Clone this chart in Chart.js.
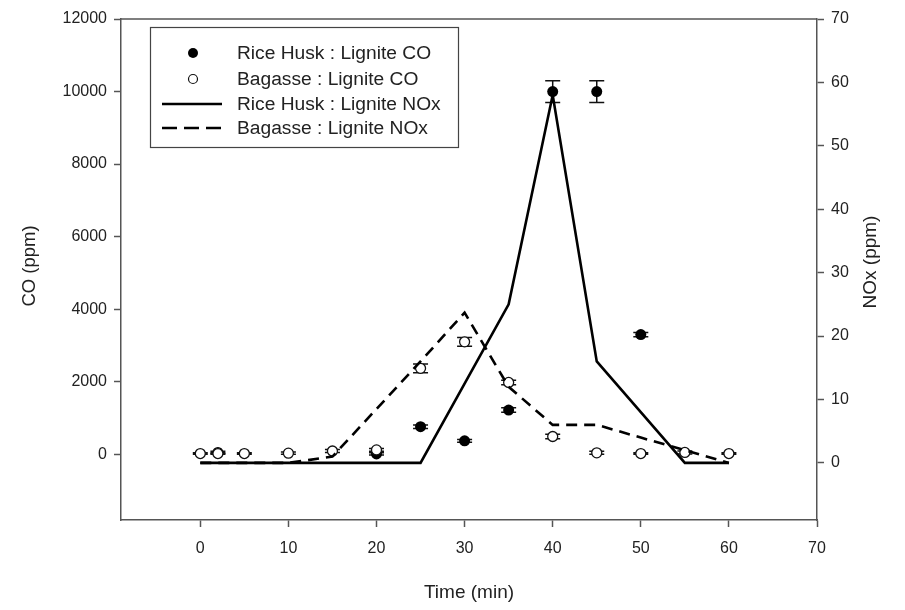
<!DOCTYPE html>
<html>
<head>
<meta charset="utf-8">
<script src="https://cdn.jsdelivr.net/npm/chart.js@4/dist/chart.umd.min.js"></script>
<style>
  html, body { margin: 0; padding: 0; background: #fff; }
  #wrap { width: 905px; height: 610px; position: relative; }
</style>
</head>
<body>
<div id="wrap"><canvas id="c" width="905" height="610"></canvas></div>
<script>
// CO readings (ppm) with error bars
const riceTimeCO = [2, 20, 25, 30, 35, 40, 45, 50];
const riceCO     = [50, 10, 760, 370, 1220, 10000, 10000, 3300];
const riceCOErr  = [30, 30, 50, 40, 60, 300, 300, 60];

const bagTimeCO  = [0, 2, 5, 10, 15, 20, 25, 30, 35, 40, 45, 50, 55, 60];
const bagCO      = [20, 20, 20, 30, 90, 120, 2370, 3100, 1980, 490, 40, 20, 50, 20];
const bagCOErr   = [20, 20, 20, 30, 40, 40, 120, 120, 60, 60, 40, 20, 40, 20];

// NOx readings (ppm)
const noxTime    = [0, 5, 10, 15, 20, 25, 30, 35, 40, 45, 50, 55, 60];
const riceNOx    = [0, 0, 0, 0, 0, 0, 12.5, 25, 58, 16, 8, 0, 0];
const bagNOx     = [0, 0, 0, 1, 8.5, 16, 23.7, 12, 6, 6, 4, 2, 0];

// Axis tick values
const timeTicks = [0, 10, 20, 30, 40, 50, 60, 70];
const coTicks   = [0, 2000, 4000, 6000, 8000, 10000, 12000];
const noxTicks  = [0, 10, 20, 30, 40, 50, 60, 70];

const legendLabels = [
  'Rice Husk : Lignite CO',
  'Bagasse : Lignite CO',
  'Rice Husk : Lignite NOx',
  'Bagasse : Lignite NOx'
];
const coTitle = 'CO (ppm)';
const noxTitle = 'NOx (ppm)';

const FONT = "'Liberation Sans', Arial, sans-serif";
const AXIS = '#555';
const TEXT = '#222';

const pts = (xs, ys) => xs.map((x, i) => ({ x: x, y: ys[i] }));

// Vertical error bars with caps, placed through the chart scales
const errorBars = {
  id: 'errorBars',
  beforeDatasetsDraw(chart) {
    const ctx = chart.ctx;
    const xs = chart.scales.x, ys = chart.scales.y;
    const sets = [[riceTimeCO, riceCO, riceCOErr], [bagTimeCO, bagCO, bagCOErr]];
    ctx.save();
    ctx.strokeStyle = '#111';
    ctx.lineWidth = 1.5;
    sets.forEach(([tx, v, e]) => {
      tx.forEach((t, i) => {
        const px = xs.getPixelForValue(t);
        const top = ys.getPixelForValue(v[i] + e[i]);
        const bot = ys.getPixelForValue(v[i] - e[i]);
        ctx.beginPath();
        ctx.moveTo(px, top); ctx.lineTo(px, bot);
        ctx.moveTo(px - 7.5, top); ctx.lineTo(px + 7.5, top);
        ctx.moveTo(px - 7.5, bot); ctx.lineTo(px + 7.5, bot);
        ctx.stroke();
      });
    });
    ctx.restore();
  }
};

// vertical axis title reading bottom to top
function sideTitle(ctx, text, x, y, size) {
  ctx.save();
  ctx.translate(x, y);
  ctx.rotate(-Math.PI / 2);
  ctx.fillStyle = TEXT;
  ctx.font = size + 'px ' + FONT;
  ctx.textAlign = 'center';
  ctx.textBaseline = 'middle';
  ctx.fillText(text, 0, 0);
  ctx.restore();
}

// Frame line along the top of the plot area, side titles and the boxed key
const frameAndKey = {
  id: 'frameAndKey',
  afterDraw(chart) {
    const ctx = chart.ctx;
    const a = chart.chartArea;
    ctx.save();
    ctx.strokeStyle = AXIS;
    ctx.lineWidth = 1.5;
    ctx.beginPath();
    ctx.moveTo(a.left, a.top); ctx.lineTo(a.right, a.top);
    ctx.stroke();

    sideTitle(ctx, coTitle, 30, 266, 18.5);
    sideTitle(ctx, noxTitle, 871, 262, 19);

    // key box
    const bx = 150, by = 27, bw = 308, bh = 120;
    ctx.fillStyle = '#fff';
    ctx.fillRect(bx, by, bw, bh);
    ctx.strokeStyle = '#444';
    ctx.lineWidth = 1.2;
    ctx.strokeRect(bx + 0.5, by + 0.5, bw, bh);

    const rows = [53, 79, 104, 128];
    const ds = chart.data.datasets;
    // filled marker
    ctx.beginPath();
    ctx.arc(193, rows[0], 5, 0, Math.PI * 2);
    ctx.fillStyle = ds[0].backgroundColor; ctx.fill();
    // open marker
    ctx.beginPath();
    ctx.arc(193, rows[1], 4.5, 0, Math.PI * 2);
    ctx.fillStyle = '#fff'; ctx.fill();
    ctx.strokeStyle = ds[1].borderColor; ctx.lineWidth = 1.2; ctx.stroke();
    // solid line
    ctx.beginPath();
    ctx.strokeStyle = ds[2].borderColor; ctx.lineWidth = ds[2].borderWidth;
    ctx.setLineDash([]);
    ctx.moveTo(162, rows[2]); ctx.lineTo(222, rows[2]); ctx.stroke();
    // dashed line
    ctx.beginPath();
    ctx.strokeStyle = ds[3].borderColor; ctx.lineWidth = ds[3].borderWidth;
    ctx.setLineDash([15, 7]);
    ctx.moveTo(162, rows[3]); ctx.lineTo(222, rows[3]); ctx.stroke();
    ctx.setLineDash([]);

    ctx.fillStyle = TEXT;
    ctx.font = '19.2px ' + FONT;
    ctx.textBaseline = 'middle';
    ctx.textAlign = 'left';
    legendLabels.forEach((t, i) => ctx.fillText(t, 237, rows[i] + 1));
    ctx.restore();
  }
};

const fixTicks = (list) => (scale) => { scale.ticks = list.map(v => ({ value: v })); };
const plain = (v) => String(v);

new Chart(document.getElementById('c'), {
  type: 'scatter',
  data: {
    datasets: [
      {
        label: legendLabels[0],
        data: pts(riceTimeCO, riceCO),
        yAxisID: 'y',
        backgroundColor: '#000',
        borderColor: '#000',
        borderWidth: 0,
        pointRadius: 5.5,
        showLine: false,
        order: 3
      },
      {
        label: legendLabels[1],
        data: pts(bagTimeCO, bagCO),
        yAxisID: 'y',
        backgroundColor: '#fff',
        borderColor: '#111',
        borderWidth: 1.3,
        pointRadius: 5,
        showLine: false,
        order: 2
      },
      {
        label: legendLabels[2],
        data: pts(noxTime, riceNOx),
        yAxisID: 'y2',
        showLine: true,
        borderColor: '#000',
        borderWidth: 2.6,
        pointRadius: 0,
        tension: 0,
        order: 1
      },
      {
        label: legendLabels[3],
        data: pts(noxTime, bagNOx),
        yAxisID: 'y2',
        showLine: true,
        borderColor: '#000',
        borderWidth: 2.6,
        borderDash: [11, 7],
        pointRadius: 0,
        tension: 0,
        order: 0
      }
    ]
  },
  options: {
    responsive: false,
    animation: false,
    devicePixelRatio: 1,
    layout: { padding: { top: 19, left: 0, right: 0, bottom: 0 } },
    plugins: { legend: { display: false }, tooltip: { enabled: false } },
    scales: {
      x: {
        type: 'linear',
        position: 'bottom',
        min: -9, max: 70,
        afterBuildTicks: fixTicks(timeTicks),
        afterFit: (s) => { s.height = 90; },
        border: { color: AXIS, width: 1.5 },
        grid: { drawOnChartArea: false, drawTicks: true, tickLength: 7, tickColor: AXIS, tickWidth: 1.5 },
        ticks: { color: TEXT, font: { family: FONT, size: 16 }, padding: 12, maxRotation: 0, callback: plain },
        title: { display: true, text: 'Time (min)', color: TEXT, font: { family: FONT, size: 19 }, padding: { bottom: 6 } }
      },
      y: {
        type: 'linear',
        position: 'left',
        min: -1812, max: 12000,
        afterBuildTicks: fixTicks(coTicks),
        afterFit: (s) => { s.width = 121; },
        border: { color: AXIS, width: 1.5 },
        grid: { drawOnChartArea: false, drawTicks: true, tickLength: 7, tickColor: AXIS, tickWidth: 1.5 },
        ticks: { color: TEXT, font: { family: FONT, size: 16 }, padding: 7, callback: plain },
        title: { display: false }
      },
      y2: {
        type: 'linear',
        position: 'right',
        min: -9, max: 70,
        afterBuildTicks: fixTicks(noxTicks),
        afterFit: (s) => { s.width = 88; },
        border: { color: AXIS, width: 1.5 },
        grid: { drawOnChartArea: false, drawTicks: true, tickLength: 7, tickColor: AXIS, tickWidth: 1.5 },
        ticks: { color: TEXT, font: { family: FONT, size: 16 }, padding: 7, callback: plain },
        title: { display: false }
      }
    }
  },
  plugins: [errorBars, frameAndKey]
});
</script>
</body>
</html>
